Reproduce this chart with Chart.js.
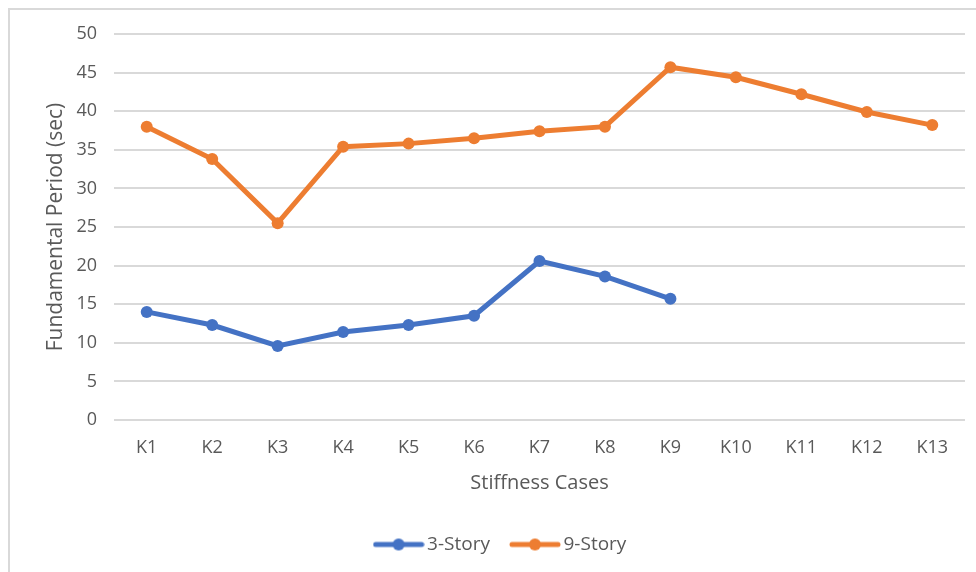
<!DOCTYPE html>
<html>
<head>
<meta charset="utf-8">
<script src="https://cdn.jsdelivr.net/npm/chart.js@4.4.1/dist/chart.umd.min.js"></script>
<style>
  html, body { margin: 0; padding: 0; background: #ffffff; }
  #wrap { position: relative; width: 976px; height: 572px; overflow: hidden; }
  #frame { position: absolute; left: 8px; top: 8px; width: 1100px; height: 700px; border: 2px solid #d9d9d9; box-sizing: border-box; }
  canvas { position: absolute; left: 0; top: 0; }
</style>
</head>
<body>
<div id="wrap">
  <div id="frame"></div>
  <canvas id="c" width="976" height="572"></canvas>
</div>
<script>
const categories = ['K1','K2','K3','K4','K5','K6','K7','K8','K9','K10','K11','K12','K13'];
const story3 = [14.0, 12.3, 9.6, 11.4, 12.3, 13.5, 20.6, 18.6, 15.7, null, null, null, null];
const story9 = [38.0, 33.8, 25.5, 35.4, 35.8, 36.5, 37.4, 38.0, 45.7, 44.4, 42.2, 39.9, 38.2];
const seriesNames = ['3-Story', '9-Story'];
const seriesColors = ['#4472C4', '#ED7D31'];
const yTitle = 'Fundamental Period (sec)';
const xTitle = 'Stiffness Cases';

const FONT = "'Open Sans', 'DejaVu Sans', sans-serif";
const GRAY = '#595959';

function legendIcon(color) {
  const cv = document.createElement('canvas');
  cv.width = 52; cv.height = 14;
  const g = cv.getContext('2d');
  g.strokeStyle = color; g.lineWidth = 5; g.lineCap = 'round';
  g.beginPath(); g.moveTo(3, 7); g.lineTo(49, 7); g.stroke();
  g.fillStyle = color;
  g.beginPath(); g.arc(26, 7, 6, 0, Math.PI * 2); g.fill();
  return cv;
}
const icons = seriesColors.map(legendIcon);

new Chart(document.getElementById('c'), {
  type: 'line',
  data: {
    labels: categories,
    datasets: [
      { label: seriesNames[0], data: story3, borderColor: seriesColors[0], backgroundColor: seriesColors[0],
        borderWidth: 5, pointRadius: 6, pointBackgroundColor: seriesColors[0], pointBorderWidth: 0, tension: 0, spanGaps: false },
      { label: seriesNames[1], data: story9, borderColor: seriesColors[1], backgroundColor: seriesColors[1],
        borderWidth: 5, pointRadius: 6, pointBackgroundColor: seriesColors[1], pointBorderWidth: 0, tension: 0 }
    ]
  },
  options: {
    responsive: false,
    animation: false,
    events: [],
    layout: { padding: { top: 34, left: 41, right: 11, bottom: 8 } },
    plugins: {
      tooltip: { enabled: false },
      legend: {
        position: 'bottom',
        labels: {
          usePointStyle: true,
          pointStyleWidth: 38,
          padding: 26,
          color: GRAY,
          font: { family: FONT, size: 19 },
          generateLabels(chart) {
            return chart.data.datasets.map((ds, i) => ({
              text: ds.label, fillStyle: ds.borderColor, strokeStyle: ds.borderColor,
              lineWidth: 0, pointStyle: icons[i], hidden: false, datasetIndex: i, fontColor: GRAY
            }));
          }
        }
      }
    },
    scales: {
      x: {
        offset: true,
        grid: { display: false, drawTicks: false },
        border: { display: false },
        ticks: { color: GRAY, font: { family: FONT, size: 18 }, padding: 17, maxRotation: 0 },
        title: { display: true, text: xTitle, color: GRAY, font: { family: FONT, size: 20 }, padding: { top: 0, bottom: 14 } },
        afterFit(s) { s.height = 89; }
      },
      y: {
        min: 0, max: 50,
        grid: { color: '#d9d9d9', lineWidth: 2, drawTicks: false },
        border: { display: false },
        ticks: { stepSize: 5, color: GRAY, font: { family: FONT, size: 18 }, padding: 17 },
        title: { display: true, text: yTitle, color: GRAY, font: { family: FONT, size: 21 }, padding: { top: 2, bottom: 0 } },
        afterFit(s) { s.width = 73; }
      }
    }
  }
});
</script>
</body>
</html>
